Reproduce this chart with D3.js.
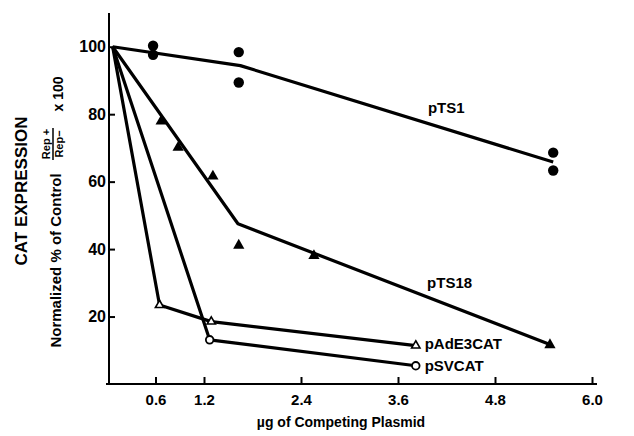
<!DOCTYPE html>
<html>
<head>
<meta charset="utf-8">
<script src="https://cdn.jsdelivr.net/npm/d3@7/dist/d3.min.js"></script>
<style>
  html, body { margin: 0; padding: 0; background: #fff; }
  svg { display: block; }
  text { font-family: "Liberation Sans", Arial, Helvetica, sans-serif; font-weight: bold; fill: #000; }
</style>
</head>
<body>
<svg id="chart" width="634" height="436"></svg>
<script>
// ---------- data ----------
const xTickValues = [0.6, 1.2, 2.4, 3.6, 4.8, 6.0];
const yTickValues = [20, 40, 60, 80, 100];
const seriesNames = ["pTS1", "pTS18", "pAdE3CAT", "pSVCAT"];

// measured points  [µg, % of control]
const pTS1Points = [[0.57, 100.3], [0.57, 97.6], [1.63, 98.4], [1.63, 89.4], [5.52, 68.6], [5.52, 63.3]];
const pTS18Points = [[0.67, 77.9], [0.88, 70.1], [1.31, 61.6], [1.63, 41.1], [2.56, 38.0], [5.48, 11.6]];
const pAdE3CATPoints = [[0.65, 23.4], [1.29, 18.5], [3.82, 11.4]];
const pSVCATPoints = [[1.27, 13.1], [3.82, 5.4]];

// drawn curves
const pTS1Curve = [[0.07, 100], [1.65, 94.4], [5.52, 65.8]];
const pTS18Curve = [[0.07, 100], [1.62, 47.5], [5.48, 11.7]];
const pAdE3CATCurve = [[0.07, 100], [0.65, 23.4], [1.29, 18.5], [3.82, 11.4]];
const pSVCATCurve = [[0.07, 100], [1.27, 13.1], [3.82, 5.4]];

// ---------- layout ----------
const svg = d3.select("#chart");
const x = d3.scaleLinear().domain([0, 6]).range([107, 592]);
const y = d3.scaleLinear().domain([0, 110]).range([384, 13]);
const yAxisX = x(0) + 2;

// x axis
const xAxis = d3.axisBottom(x)
  .tickValues(xTickValues)
  .tickFormat(d3.format(".1f"))
  .tickSizeInner(-7)
  .tickSizeOuter(0)
  .tickPadding(10);
const gx = svg.append("g").attr("transform", `translate(0,${y(0)})`).call(xAxis);
gx.select(".domain").remove();
gx.selectAll(".tick line").attr("stroke", "#000").attr("stroke-width", 2);
gx.selectAll(".tick text").attr("font-size", 15).style("font-weight", "bold");
gx.append("line")
  .attr("x1", x(0) - 1).attr("x2", x(6) + 5)
  .attr("y1", 0).attr("y2", 0)
  .attr("stroke", "#000").attr("stroke-width", 2);

// y axis
const yAxis = d3.axisLeft(y)
  .tickValues(yTickValues)
  .tickFormat(d3.format("d"))
  .tickSizeInner(-6)
  .tickSizeOuter(0)
  .tickPadding(3);
const gy = svg.append("g").attr("transform", `translate(${yAxisX},0)`).call(yAxis);
gy.select(".domain").remove();
gy.selectAll(".tick line").attr("stroke", "#000").attr("stroke-width", 2);
gy.selectAll(".tick text").attr("font-size", 16).style("font-weight", "bold");
gy.append("line")
  .attr("x1", 0).attr("x2", 0)
  .attr("y1", y(0) + 1).attr("y2", y(110))
  .attr("stroke", "#000").attr("stroke-width", 2);

// curves
const line = d3.line().x(d => x(d[0])).y(d => y(d[1]));
[pTS1Curve, pTS18Curve, pAdE3CATCurve, pSVCATCurve].forEach(c => {
  svg.append("path")
    .attr("d", line(c))
    .attr("fill", "none")
    .attr("stroke", "#000")
    .attr("stroke-width", 3.2)
    .attr("stroke-linejoin", "round");
});

// markers
svg.append("g").selectAll("circle").data(pTS1Points).join("circle")
  .attr("cx", d => x(d[0])).attr("cy", d => y(d[1])).attr("r", 5.2)
  .attr("fill", "#000");

svg.append("g").selectAll("path").data(pTS18Points).join("path")
  .attr("transform", d => `translate(${x(d[0])},${y(d[1])})`)
  .attr("d", d3.symbol(d3.symbolTriangle, 55))
  .attr("fill", "#000");

svg.append("g").selectAll("path").data(pAdE3CATPoints).join("path")
  .attr("transform", d => `translate(${x(d[0])},${y(d[1])})`)
  .attr("d", d3.symbol(d3.symbolTriangle, 30))
  .attr("fill", "#fff").attr("stroke", "#000").attr("stroke-width", 1.6);

svg.append("g").selectAll("circle").data(pSVCATPoints).join("circle")
  .attr("cx", d => x(d[0])).attr("cy", d => y(d[1])).attr("r", 3.8)
  .attr("fill", "#fff").attr("stroke", "#000").attr("stroke-width", 1.8);

// series labels
const labelAnchors = [[3.97, 80.4], [3.96, 28.5], [3.93, 10.4], [3.93, 3.8]];
svg.append("g").selectAll("text").data(seriesNames).join("text")
  .attr("x", (d, i) => x(labelAnchors[i][0]))
  .attr("y", (d, i) => y(labelAnchors[i][1]))
  .attr("font-size", 15)
  .text(d => d);

// axis titles
svg.append("text")
  .attr("x", 341).attr("y", 427)
  .attr("text-anchor", "middle").attr("font-size", 14)
  .text("\u00b5g of  Competing Plasmid");

svg.append("text")
  .attr("transform", "translate(27,191) rotate(-90)")
  .attr("text-anchor", "middle").attr("font-size", 17)
  .text("CAT EXPRESSION");

svg.append("text")
  .attr("transform", "translate(61,260.5) rotate(-90)")
  .attr("text-anchor", "middle").attr("font-size", 15)
  .text("Normalized % of Control");

svg.append("text")
  .attr("transform", "translate(50,144) rotate(-90)")
  .attr("text-anchor", "middle").attr("font-size", 11)
  .text("Rep +");
svg.append("line")
  .attr("x1", 53).attr("x2", 53).attr("y1", 128).attr("y2", 160)
  .attr("stroke", "#000").attr("stroke-width", 1.5);
svg.append("text")
  .attr("transform", "translate(63,144) rotate(-90)")
  .attr("text-anchor", "middle").attr("font-size", 11)
  .text("Rep\u2212");

svg.append("text")
  .attr("transform", "translate(63,94) rotate(-90)")
  .attr("text-anchor", "middle").attr("font-size", 14)
  .text("x 100");
</script>
</body>
</html>
